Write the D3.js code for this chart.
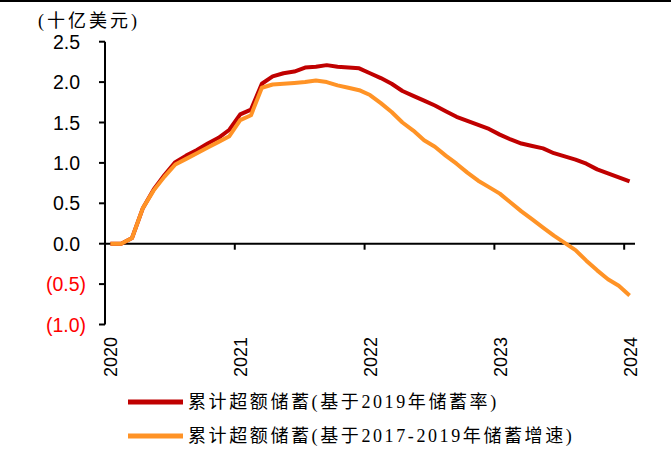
<!DOCTYPE html>
<html lang="zh">
<head>
<meta charset="utf-8">
<script src="https://d3js.org/d3.v7.min.js"></script>
<style>
body { margin: 0; background: #fff; }
svg { display: block; }
.ytick { font: 19.5px Arial, "Liberation Sans", sans-serif; }
.xtick { font: 18px Arial, "Liberation Sans", sans-serif; fill: #000; }
.cjk { font-family: "Liberation Serif", "Noto Sans CJK SC", serif; fill: #000; }
</style>
</head>
<body>
<svg id="chart"></svg>
<script>
// month index 0 = Jan 2020 ... 48 = Jan 2024
var years = ["2020", "2021", "2022", "2023", "2024"];
var yTicks = [2.5, 2.0, 1.5, 1.0, 0.5, 0.0, -0.5, -1.0];

// 累计超额储蓄(基于2019年储蓄率)
var savingsRate = [0, 0, 0.07, 0.44, 0.67, 0.85, 1.01, 1.09, 1.16, 1.24, 1.31, 1.41,
  1.60, 1.66, 1.98, 2.07, 2.11, 2.13, 2.18, 2.19, 2.21, 2.19, 2.18, 2.17,
  2.11, 2.05, 1.98, 1.89, 1.83, 1.77, 1.71, 1.64, 1.57, 1.52, 1.47, 1.42,
  1.35, 1.29, 1.24, 1.21, 1.18, 1.12, 1.08, 1.04, 0.99, 0.92, 0.87, 0.82, 0.77];

// 累计超额储蓄(基于2017-2019年储蓄增速)
var savingsGrowth = [0, 0, 0.07, 0.44, 0.66, 0.83, 0.98, 1.05, 1.12, 1.19, 1.26, 1.33,
  1.53, 1.59, 1.93, 1.97, 1.98, 1.99, 2.00, 2.02, 2.00, 1.96, 1.93, 1.90,
  1.84, 1.74, 1.63, 1.50, 1.40, 1.28, 1.20, 1.09, 0.99, 0.88, 0.78, 0.70,
  0.62, 0.51, 0.40, 0.30, 0.20, 0.10, 0.01, -0.08, -0.21, -0.33, -0.44, -0.52, -0.64];

var seriesNames = ["累计超额储蓄(基于2019年储蓄率)", "累计超额储蓄(基于2017-2019年储蓄增速)"];
var colors = ["#C00000", "#FF9326"];

var W = 671, H = 451;
var svg = d3.select("#chart").attr("width", W).attr("height", H);

// top rule
svg.append("rect").attr("x", 0).attr("y", 0).attr("width", W).attr("height", 2).attr("fill", "#000");

var x = d3.scaleLinear().domain([0, 49]).range([105, 635]);
var y = d3.scaleLinear().domain([-1, 2.5]).range([324.5, 41.7]);

// y axis
svg.append("line")
    .attr("x1", 105).attr("x2", 105)
    .attr("y1", y(2.5)).attr("y2", y(-1))
    .attr("stroke", "#000").attr("stroke-width", 2);

svg.selectAll(".yt").data(yTicks).enter().append("line")
    .attr("x1", 99).attr("x2", 105)
    .attr("y1", function(d) { return y(d); })
    .attr("y2", function(d) { return y(d); })
    .attr("stroke", "#000").attr("stroke-width", 2);

svg.selectAll(".ytick").data(yTicks).enter().append("text")
    .attr("class", "ytick")
    .attr("x", function(d) { return d < 0 ? 86 : 80; })
    .attr("y", function(d) { return y(d); })
    .attr("dy", "0.36em")
    .attr("text-anchor", "end")
    .attr("fill", function(d) { return d < 0 ? "#FF0000" : "#000"; })
    .text(function(d) { return d < 0 ? "(" + d3.format(".1f")(-d) + ")" : d3.format(".1f")(d); });

// x axis at zero
svg.append("line")
    .attr("x1", 105).attr("x2", 635)
    .attr("y1", y(0)).attr("y2", y(0))
    .attr("stroke", "#000").attr("stroke-width", 2);

svg.selectAll(".xt").data(years).enter().append("line")
    .attr("x1", function(d, i) { return x(i * 12); })
    .attr("x2", function(d, i) { return x(i * 12); })
    .attr("y1", y(0)).attr("y2", y(0) + 6)
    .attr("stroke", "#000").attr("stroke-width", 2);

svg.selectAll(".xtick").data(years).enter().append("text")
    .attr("class", "xtick")
    .attr("text-anchor", "end")
    .attr("transform", function(d, i) { return "translate(" + (x(i * 12) + 6) + ",337) rotate(-90)"; })
    .attr("dy", "0.36em")
    .text(function(d) { return d; });

// unit label
svg.append("text").attr("class", "cjk")
    .attr("x", 38).attr("y", 27)
    .style("font-size", "18px").style("letter-spacing", "3px")
    .text("(十亿美元)");

// lines
var line = d3.line()
    .x(function(d, i) { return x(i + 0.5); })
    .y(function(d) { return y(d); });

[savingsRate, savingsGrowth].forEach(function(s, k) {
  svg.append("path")
      .datum(s)
      .attr("d", line)
      .attr("fill", "none")
      .attr("stroke", colors[k])
      .attr("stroke-width", 4)
      .attr("stroke-linejoin", "round");
});

// legend
seriesNames.forEach(function(name, k) {
  var ly = 402 + k * 34;
  svg.append("line")
      .attr("x1", 128).attr("x2", 183)
      .attr("y1", ly).attr("y2", ly)
      .attr("stroke", colors[k]).attr("stroke-width", 5);
  svg.append("text").attr("class", "cjk")
      .attr("x", 188).attr("y", ly)
      .attr("dy", "0.36em")
      .style("font-size", "18px").style("letter-spacing", "2.6px")
      .text(name);
});
</script>
</body>
</html>
